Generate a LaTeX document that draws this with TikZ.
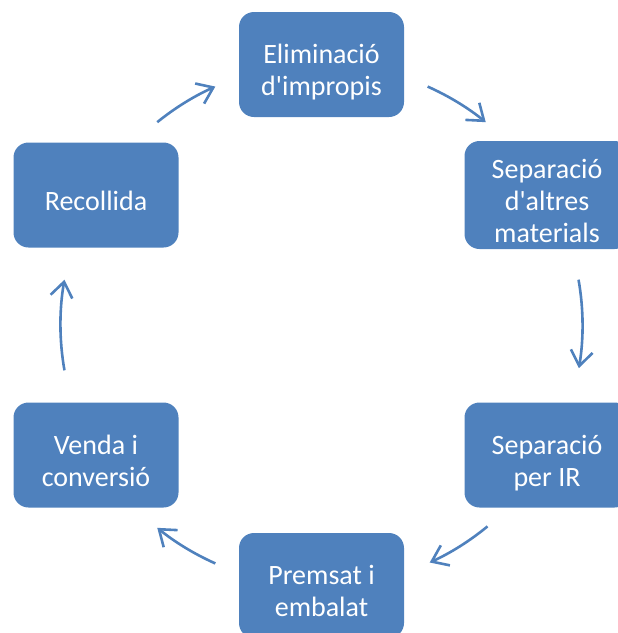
\documentclass[tikz,border=0pt]{standalone}
\usepackage{fontspec}
\newfontfamily\boxfont{Carlito}
\usetikzlibrary{arrows.meta,calc}
\definecolor{boxblue}{HTML}{4F81BD}
\definecolor{arrowblue}{HTML}{4F81BD}
\newcommand{\firststrut}{\rule[-7pt]{0pt}{44pt}}
\newcommand{\linestrut}{\rule[-7pt]{0pt}{32pt}}
\tikzset{
  stagebox/.style={rectangle, rounded corners=15pt, fill=boxblue, draw=none,
    minimum width=165pt, minimum height=105pt, text=white, align=center,
    font=\boxfont\fontsize{28}{32}\selectfont, inner sep=0pt},
  cyclearrow/.style={draw=arrowblue, line width=2.6pt,
    -{Straight Barb[length=15pt,width=22pt,line width=2.6pt]}}
}
\begin{document}
\begin{tikzpicture}
\useasboundingbox (0,0) rectangle (618pt,-633pt);
\clip (0,0) rectangle (618pt,-633pt);
\node[stagebox] (elim) at (321.5pt,-64.5pt) {\firststrut Eliminació\\\linestrut d\textquotesingle impropis};
\node[stagebox] (sep1) at (547pt,-195pt) {\firststrut Separació\\\linestrut d\textquotesingle altres\\\linestrut materials};
\node[stagebox] (sep2) at (547pt,-455pt) {\firststrut Separació\\\linestrut per IR};
\node[stagebox] (prem) at (321.5pt,-585.5pt) {\firststrut Premsat i\\\linestrut embalat};
\node[stagebox] (venda) at (96pt,-455pt) {\firststrut Venda i\\\linestrut conversió};
\node[stagebox] (rec) at (96pt,-195pt) {\firststrut Recollida};
\coordinate (C) at (321.5pt,-325pt);
\coordinate (a1) at ($(C)+(129:261pt)$);
\coordinate (a2) at ($(C)+(66:261pt)$);
\coordinate (a3) at ($(C)+(10:261pt)$);
\coordinate (a4) at ($(C)+(-50.5:261pt)$);
\coordinate (a5) at ($(C)+(-114:261pt)$);
\coordinate (a6) at ($(C)+(-170:261pt)$);
\draw[cyclearrow] (a1) arc[start angle=129, end angle=114, radius=261pt];
\draw[cyclearrow] (a2) arc[start angle=66, end angle=51, radius=261pt];
\draw[cyclearrow] (a3) arc[start angle=10, end angle=-9.5, radius=261pt];
\draw[cyclearrow] (a4) arc[start angle=-50.5, end angle=-65.5, radius=261pt];
\draw[cyclearrow] (a5) arc[start angle=-114, end angle=-129, radius=261pt];
\draw[cyclearrow] (a6) arc[start angle=-170, end angle=-190, radius=261pt];
\end{tikzpicture}
\end{document}
